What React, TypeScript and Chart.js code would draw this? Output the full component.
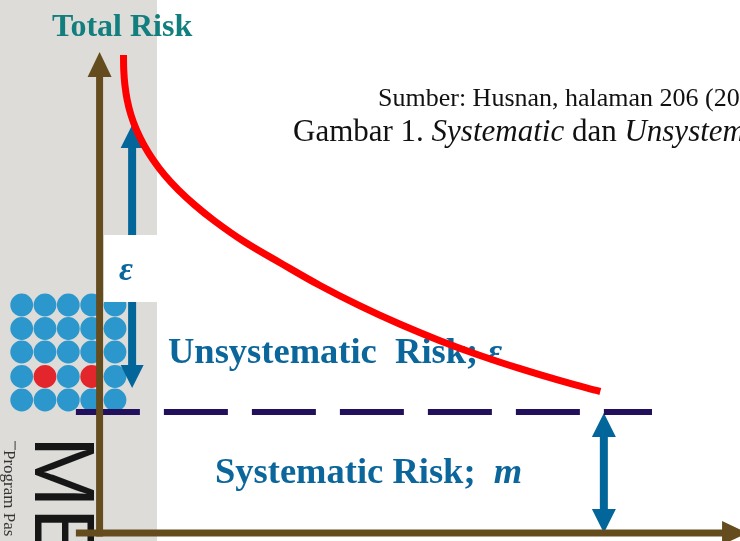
import React, { useEffect, useRef } from "react";
import { Chart, registerables } from "chart.js";

Chart.register(...registerables);

// ---- data ----
const securities = [0.948, 0.958, 1.004, 1.095, 1.245, 1.464, 1.757, 2.126, 2.577, 3.126, 3.772, 4.51, 5.728, 7.156, 8.743, 10.33, 11.92, 13.5, 15.09, 16.68, 18.27, 19.86];
const totalRisk = [9.56, 9.26, 8.96, 8.66, 8.36, 8.06, 7.76, 7.46, 7.16, 6.86, 6.56, 6.26, 5.83, 5.406, 4.95, 4.542, 4.174, 3.846, 3.55, 3.286, 3.046, 2.83];
const systematicLevel = 2.42;
const systematicSpan = [-0.94, 21.91];
const epsArrowX = 1.29;
const epsArrowSpan = [2.9, 8.16];
const mArrowX = 20.0;
const mArrowSpan = [0, 2.4];

// ---- texts ----
const yTitle = "Total Risk";
const sourceText = "Sumber: Husnan, halaman 206 (20";
const captionParts: [string, boolean][] = [["Gambar 1. ", false], ["Systematic", true], [" dan ", false], ["Unsystematic", true]];
const unsysParts: [string, boolean][] = [["Unsystematic  Risk; ", false], ["ε", true]];
const sysParts: [string, boolean][] = [["Systematic Risk;  ", false], ["m", true]];
const boxLabel = "ε";
const logoLetters = "ME";
const logoCaption = "Program Pas";

// ---- scale frame ----
const X_MIN = -3.95, X_MAX = 25.4, Y_MIN = -0.16, Y_MAX = 10.66;
const X_AXIS_FROM = -0.94, X_AXIS_TIP = 25.68, Y_AXIS_TIP = 9.62;

const W = 740, H = 541;
const SERIF = '"Liberation Serif", "Times New Roman", serif';
const BROWN = "#654c1e";
const ARROW_BLUE = "#03669b";
const TEXT_BLUE = "#0b669c";

function vArrow(ctx: CanvasRenderingContext2D, x: number, yTop: number, yBot: number, color: string, shaft: number, headLen: number, half: number) {
  ctx.fillStyle = color;
  const s0 = yTop + headLen - 1;
  const s1 = yBot - headLen + 1;
  ctx.fillRect(x - shaft / 2, s0, shaft, s1 - s0);
  ctx.beginPath();
  ctx.moveTo(x, yTop);
  ctx.lineTo(x - half, yTop + headLen);
  ctx.lineTo(x + half, yTop + headLen);
  ctx.closePath();
  ctx.fill();
  ctx.beginPath();
  ctx.moveTo(x, yBot);
  ctx.lineTo(x - half, yBot - headLen);
  ctx.lineTo(x + half, yBot - headLen);
  ctx.closePath();
  ctx.fill();
}

function mixedText(ctx: CanvasRenderingContext2D, parts: [string, boolean][], x: number, y: number, size: number, bold: boolean, color: string) {
  ctx.fillStyle = color;
  ctx.textBaseline = "alphabetic";
  ctx.textAlign = "left";
  let cx = x;
  for (const [t, it] of parts) {
    ctx.font = `${it ? "italic " : ""}${bold ? "bold " : ""}${size}px ${SERIF}`;
    ctx.fillText(t, cx, y);
    cx += ctx.measureText(t).width;
  }
}

const decorPlugin = {
  id: "decor",
  beforeDatasetsDraw(chart: any) {
    const ctx: CanvasRenderingContext2D = chart.ctx;
    const xs = chart.scales.x, ys = chart.scales.y;
    ctx.save();
    ctx.fillStyle = "#ffffff";
    ctx.fillRect(0, 0, W, H);
    // left grey panel
    ctx.fillStyle = "#dddcd8";
    ctx.fillRect(0, 0, 157, H);
    // dot logo
    const cols = [21.7, 45, 68.3, 91.7, 115];
    const rows = [305, 328.5, 352, 376.5, 400];
    rows.forEach((cy, r) => cols.forEach((cx, c) => {
      ctx.beginPath();
      ctx.arc(cx, cy, 11.4, 0, Math.PI * 2);
      ctx.fillStyle = r === 3 && (c === 1 || c === 3) ? "#e3262b" : "#2b97cc";
      ctx.fill();
    }));
    // rotated logo letters
    ctx.save();
    ctx.translate(35, 436);
    ctx.rotate(Math.PI / 2);
    ctx.font = '86px "Liberation Sans", Arial, sans-serif';
    ctx.fillStyle = "#161616";
    ctx.textBaseline = "alphabetic";
    ctx.fillText(logoLetters, 0, 0);
    ctx.restore();
    ctx.save();
    ctx.translate(4, 450);
    ctx.rotate(Math.PI / 2);
    ctx.font = `17px ${SERIF}`;
    ctx.fillStyle = "#333333";
    ctx.textBaseline = "alphabetic";
    ctx.fillText(logoCaption, 0, 0);
    ctx.restore();
    ctx.fillStyle = "#555555";
    ctx.fillRect(14.5, 441, 1.2, 9);

    // blue arrows
    const ex = xs.getPixelForValue(epsArrowX);
    vArrow(ctx, ex, ys.getPixelForValue(epsArrowSpan[1]), ys.getPixelForValue(epsArrowSpan[0]), ARROW_BLUE, 8, 23, 11.5);
    const mx = xs.getPixelForValue(mArrowX);
    vArrow(ctx, mx, ys.getPixelForValue(mArrowSpan[1]), ys.getPixelForValue(mArrowSpan[0]), ARROW_BLUE, 8, 24, 12);

    // white label box
    ctx.fillStyle = "#ffffff";
    ctx.fillRect(104, 235, 53, 67);
    ctx.font = `italic bold 34px ${SERIF}`;
    ctx.fillStyle = TEXT_BLUE;
    ctx.textAlign = "center";
    ctx.textBaseline = "alphabetic";
    ctx.fillText(boxLabel, 126, 280);

    // texts
    ctx.textAlign = "left";
    ctx.font = `bold 32px ${SERIF}`;
    ctx.fillStyle = "#127f7e";
    ctx.fillText(yTitle, 52, 36);
    ctx.font = `26px ${SERIF}`;
    ctx.fillStyle = "#111111";
    ctx.fillText(sourceText, 378, 106);
    mixedText(ctx, captionParts, 293, 141, 31, false, "#111111");
    mixedText(ctx, unsysParts, 168, 363, 36.5, true, TEXT_BLUE);
    mixedText(ctx, sysParts, 215, 483, 36.5, true, TEXT_BLUE);
    ctx.restore();
  },
  afterDatasetsDraw(chart: any) {
    const ctx: CanvasRenderingContext2D = chart.ctx;
    const xs = chart.scales.x, ys = chart.scales.y;
    const ox = xs.getPixelForValue(0);
    const oy = ys.getPixelForValue(0);
    ctx.save();
    ctx.fillStyle = BROWN;
    // y axis
    const yTip = ys.getPixelForValue(Y_AXIS_TIP);
    ctx.fillRect(ox - 3.5, yTip + 24, 7, oy + 3.5 - (yTip + 24));
    ctx.beginPath();
    ctx.moveTo(ox, yTip);
    ctx.lineTo(ox - 12, yTip + 25);
    ctx.lineTo(ox + 12, yTip + 25);
    ctx.closePath();
    ctx.fill();
    // x axis
    const xStart = xs.getPixelForValue(X_AXIS_FROM);
    const xTip = xs.getPixelForValue(X_AXIS_TIP);
    ctx.fillRect(xStart, oy - 3.5, xTip - 24 - xStart, 7);
    ctx.beginPath();
    ctx.moveTo(xTip, oy);
    ctx.lineTo(xTip - 25, oy - 12);
    ctx.lineTo(xTip - 25, oy + 12);
    ctx.closePath();
    ctx.fill();
    ctx.restore();
  },
};

export default function App() {
  const ref = useRef<HTMLCanvasElement | null>(null);
  useEffect(() => {
    if (!ref.current) return;
    const chart = new Chart(ref.current, {
      type: "scatter",
      data: {
        datasets: [
          {
            label: "Total Risk",
            data: securities.map((x, i) => ({ x, y: totalRisk[i] })),
            showLine: true,
            borderColor: "#ff0000",
            borderWidth: 7,
            borderCapStyle: "butt",
            borderJoinStyle: "round",
            tension: 0.4,
            pointRadius: 0,
            order: 1,
          },
          {
            label: "Systematic Risk",
            data: systematicSpan.map((x) => ({ x, y: systematicLevel })),
            showLine: true,
            borderColor: "#22105c",
            borderWidth: 6,
            borderDash: [64, 24],
            borderCapStyle: "butt",
            pointRadius: 0,
            order: 2,
          },
        ],
      },
      options: {
        responsive: false,
        animation: false,
        layout: { padding: 0 },
        plugins: { legend: { display: false }, tooltip: { enabled: false }, title: { display: false } },
        scales: {
          x: { type: "linear", min: X_MIN, max: X_MAX, display: false },
          y: { type: "linear", min: Y_MIN, max: Y_MAX, display: false },
        },
      },
      plugins: [decorPlugin],
    } as any);
    return () => chart.destroy();
  }, []);
  return (
    <div style={{ position: "absolute", left: 0, top: 0, width: W, height: H, background: "#fff" }}>
      <canvas ref={ref} width={W} height={H} style={{ display: "block", width: W, height: H }} />
    </div>
  );
}
